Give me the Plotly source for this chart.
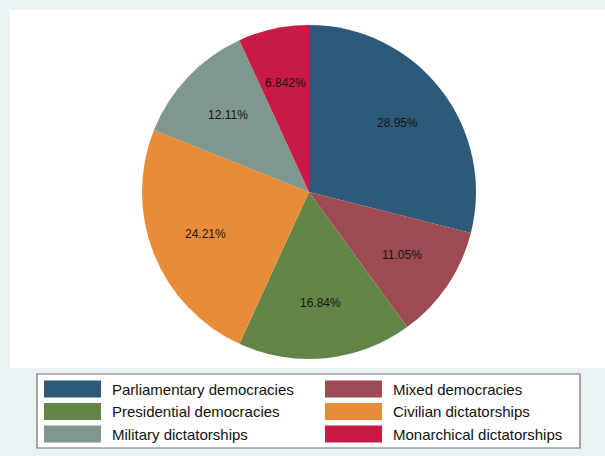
import math
import plotly.graph_objects as go

W, H = 605, 456

categories = ["Parliamentary democracies", "Mixed democracies", "Presidential democracies",
              "Civilian dictatorships", "Military dictatorships", "Monarchical dictatorships"]
counts = [55, 21, 32, 46, 23, 13]
colors = ["#2e5a7a", "#9d4a52", "#648548", "#e98c37", "#7f978c", "#c91a45"]

total = sum(counts)
pct_labels = [f"{c / total * 100:.4g}%" for c in counts]

FONT = "Liberation Sans, Arial, sans-serif"

def px(x):
    return x / W

def py(y):
    return 1 - y / H

# pie geometry (pixels)
cx, cy, R = 309, 192, 167
label_r = 0.67 * R

fig = go.Figure(go.Pie(
    labels=categories,
    values=counts,
    textinfo="none",
    marker=dict(colors=colors, line=dict(width=0)),
    sort=False,
    direction="clockwise",
    rotation=0,
    hoverinfo="label+percent",
    domain=dict(x=[px(cx - R), px(cx + R)], y=[py(cy + R), py(cy - R)]),
    showlegend=False,
))

annotations = []
# slice labels at mid-angle of each slice
cum = 0
for c, lab in zip(counts, pct_labels):
    mid = (cum + c / 2) / total * 2 * math.pi
    cum += c
    x = cx + label_r * math.sin(mid)
    y = cy - label_r * math.cos(mid)
    annotations.append(dict(xref="paper", yref="paper", x=px(x), y=py(y), xanchor="center",
                            yanchor="middle", showarrow=False, text=lab,
                            font=dict(family=FONT, size=12, color="#151515")))

shapes = [
    dict(type="rect", xref="paper", yref="paper", x0=px(10), x1=1.0, y0=py(368), y1=py(10),
         fillcolor="white", line=dict(width=0), layer="below"),
    dict(type="rect", xref="paper", yref="paper", x0=px(37), x1=px(580), y0=py(448), y1=py(374),
         fillcolor="white", line=dict(color="#707070", width=1.2), layer="below"),
]
col_x = [44, 325]
row_y = [389, 411.5, 434]
for i, (cat, col) in enumerate(zip(categories, colors)):
    r, c = divmod(i, 2)
    x0 = col_x[c]
    yc = row_y[r]
    shapes.append(dict(type="rect", xref="paper", yref="paper",
                       x0=px(x0), x1=px(x0 + 57), y0=py(yc + 8.5), y1=py(yc - 8.5),
                       fillcolor=col, line=dict(width=0)))
    annotations.append(dict(xref="paper", yref="paper", x=px(x0 + 66), y=py(yc),
                            xanchor="left", yanchor="middle", showarrow=False, text=cat,
                            font=dict(family=FONT, size=15, color="#111111")))

fig.update_layout(
    width=W, height=H,
    margin=dict(l=0, r=0, t=0, b=0),
    paper_bgcolor="#eaf2f3",
    plot_bgcolor="white",
    shapes=shapes,
    annotations=annotations,
)

fig.write_html("out.html",
               config={"displayModeBar": False},
               post_script="document.body.style.margin='0';document.body.style.padding='0';")
